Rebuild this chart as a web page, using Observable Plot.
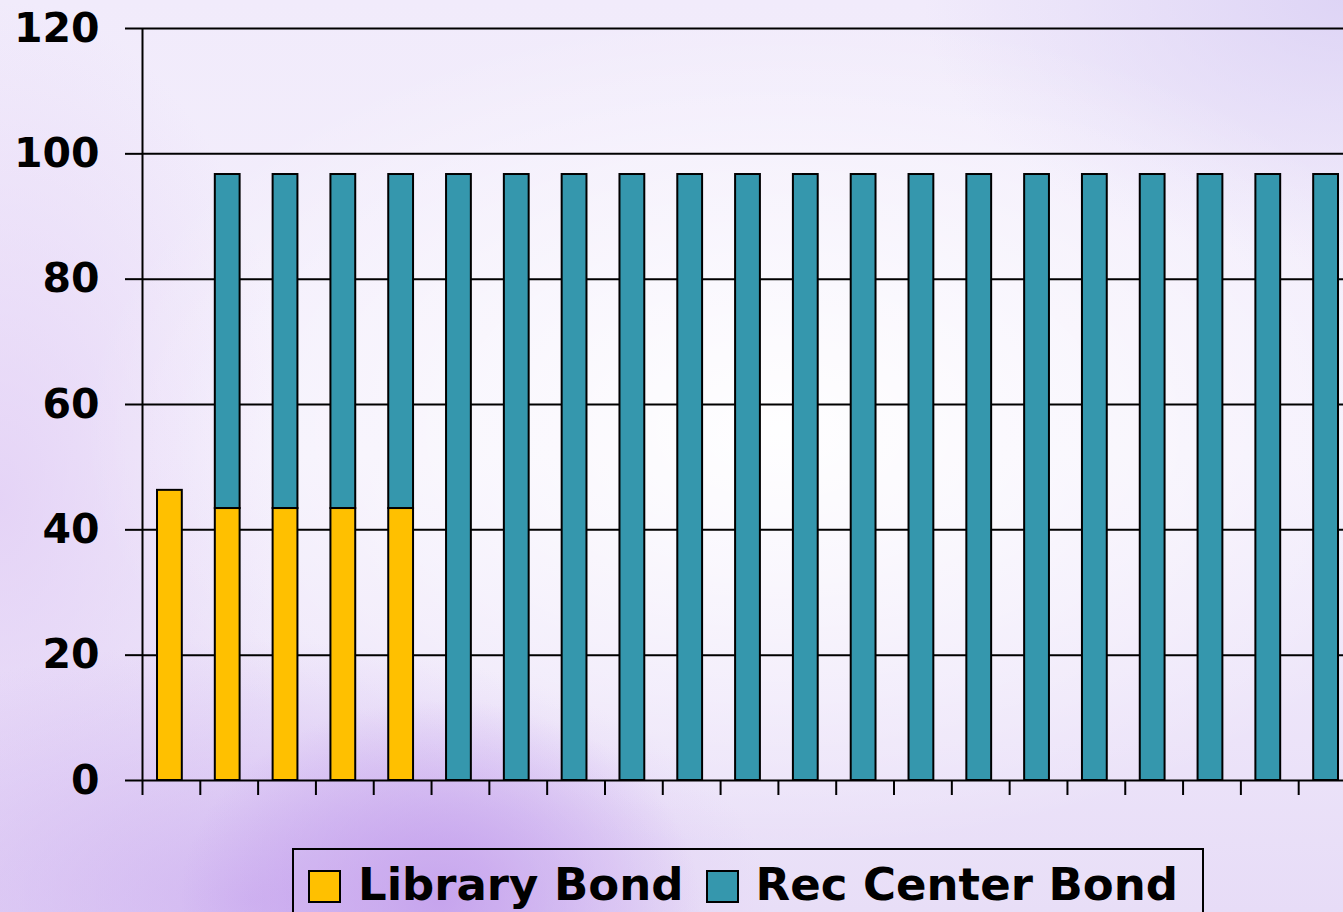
<!DOCTYPE html>
<html>
<head>
<meta charset="utf-8">
<script src="https://cdn.jsdelivr.net/npm/d3@7"></script>
<script src="https://cdn.jsdelivr.net/npm/@observablehq/plot@0.6"></script>
<style>
  html, body { margin: 0; padding: 0; width: 1343px; height: 912px; overflow: hidden; }
  body {
    position: relative;
    font-family: "DejaVu Sans", sans-serif;
    background:
      radial-gradient(ellipse 260px 200px at 440px 900px, rgba(190,150,235,0.85), rgba(190,150,235,0) 100%),
      radial-gradient(ellipse 520px 260px at 250px 900px, rgba(205,175,240,0.8), rgba(205,175,240,0) 100%),
      radial-gradient(ellipse 700px 420px at 780px 430px, rgba(255,255,255,0.95), rgba(255,255,255,0) 100%),
      radial-gradient(ellipse 420px 260px at 1343px 0px, rgba(220,210,245,0.9), rgba(220,210,245,0) 100%),
      radial-gradient(ellipse 300px 500px at 0px 500px, rgba(225,205,245,0.8), rgba(225,205,245,0) 100%),
      linear-gradient(180deg, #f1ebfb 0%, #f4effc 50%, #e7dcf7 100%);
  }
  #chart { position: absolute; left: 0; top: 0; width: 1400px; }
  #chart svg { display: block; overflow: visible; background: transparent; max-width: none !important; }
  #legend {
    position: absolute; left: 292px; top: 848px; width: 912px; height: 80px;
    border: 2px solid #000; box-sizing: border-box;
    display: flex; align-items: flex-start; padding-left: 14px; padding-top: 13px;
    font-family: "DejaVu Sans", sans-serif; font-weight: bold; font-size: 45px; color: #000;
    background: rgba(255,255,255,0.08);
  }
  .item { display: flex; align-items: center; white-space: nowrap; line-height: 1; }
  .sw { width: 29px; height: 29px; border: 2px solid #000; box-sizing: content-box; margin-right: 17px; margin-top: 2px; }
  .lbl { margin-right: 22px; position: relative; top: -1px; }
</style>
</head>
<body>
<div id="chart"></div>
<div id="legend"></div>
<script>
// ---- data ----
const bars = ["1","2","3","4","5","6","7","8","9","10","11","12","13","14","15","16","17","18","19","20","21"];
const seriesNames = ["Library Bond", "Rec Center Bond"];
const seriesColors = ["#FFC000", "#3597AD"];
const libraryBond =   [46.3, 43.4, 43.4, 43.4, 43.4, 0, 0, 0, 0, 0, 0, 0, 0, 0, 0, 0, 0, 0, 0, 0, 0];
const recCenterBond = [0, 53.3, 53.3, 53.3, 53.3, 96.7, 96.7, 96.7, 96.7, 96.7, 96.7, 96.7, 96.7, 96.7, 96.7, 96.7, 96.7, 96.7, 96.7, 96.7, 96.7];
const yTicks = [0, 20, 40, 60, 80, 100, 120];

// ---- table for the library ----
const rows = [];
bars.forEach((b, i) => {
  rows.push({pos: i, bar: b, series: seriesNames[0], value: libraryBond[i]});
  rows.push({pos: i, bar: b, series: seriesNames[1], value: recCenterBond[i]});
});
const shown = rows.filter(d => d.value > 0);
const xTicks = d3.range(0, bars.length + 1);

const chart = Plot.plot({
  width: 1356,
  height: 800,
  marginLeft: 142,
  marginRight: 0,
  marginTop: 28,
  marginBottom: 20,
  style: {background: "transparent", fontFamily: "DejaVu Sans, sans-serif", maxWidth: "none"},
  x: {type: "linear", domain: [0, bars.length], axis: null, label: null},
  y: {domain: [0, 120], axis: null, label: null},
  color: {domain: seriesNames, range: seriesColors},
  marks: [
    Plot.ruleY(yTicks, {stroke: "#000", strokeWidth: 2, strokeOpacity: 1}),
    Plot.rectY(shown, Plot.stackY({
      x: "pos", interval: 1, y: "value", fill: "series", order: seriesNames,
      insetLeft: 15, insetRight: 18, stroke: "#000", strokeWidth: 2
    })),
    Plot.ruleX([0], {stroke: "#000", strokeWidth: 2}),
    Plot.axisX({ticks: xTicks, tickSize: 15, tickFormat: () => "", label: null,
      stroke: "#000", strokeWidth: 2, strokeOpacity: 1}),
    Plot.axisY({ticks: yTicks, tickSize: 17, tickPadding: 26, fontSize: 41, fontWeight: "bold", fill: "#000",
      label: null, stroke: "#000", strokeWidth: 2, strokeOpacity: 1})
  ]
});
document.getElementById("chart").appendChild(chart);

// ---- legend ----
const legend = document.getElementById("legend");
seriesNames.forEach((name, i) => {
  const item = document.createElement("div");
  item.className = "item";
  const sw = document.createElement("div");
  sw.className = "sw";
  sw.style.background = seriesColors[i];
  const lbl = document.createElement("span");
  lbl.className = "lbl";
  lbl.textContent = name;
  item.appendChild(sw);
  item.appendChild(lbl);
  legend.appendChild(item);
});
</script>
</body>
</html>
